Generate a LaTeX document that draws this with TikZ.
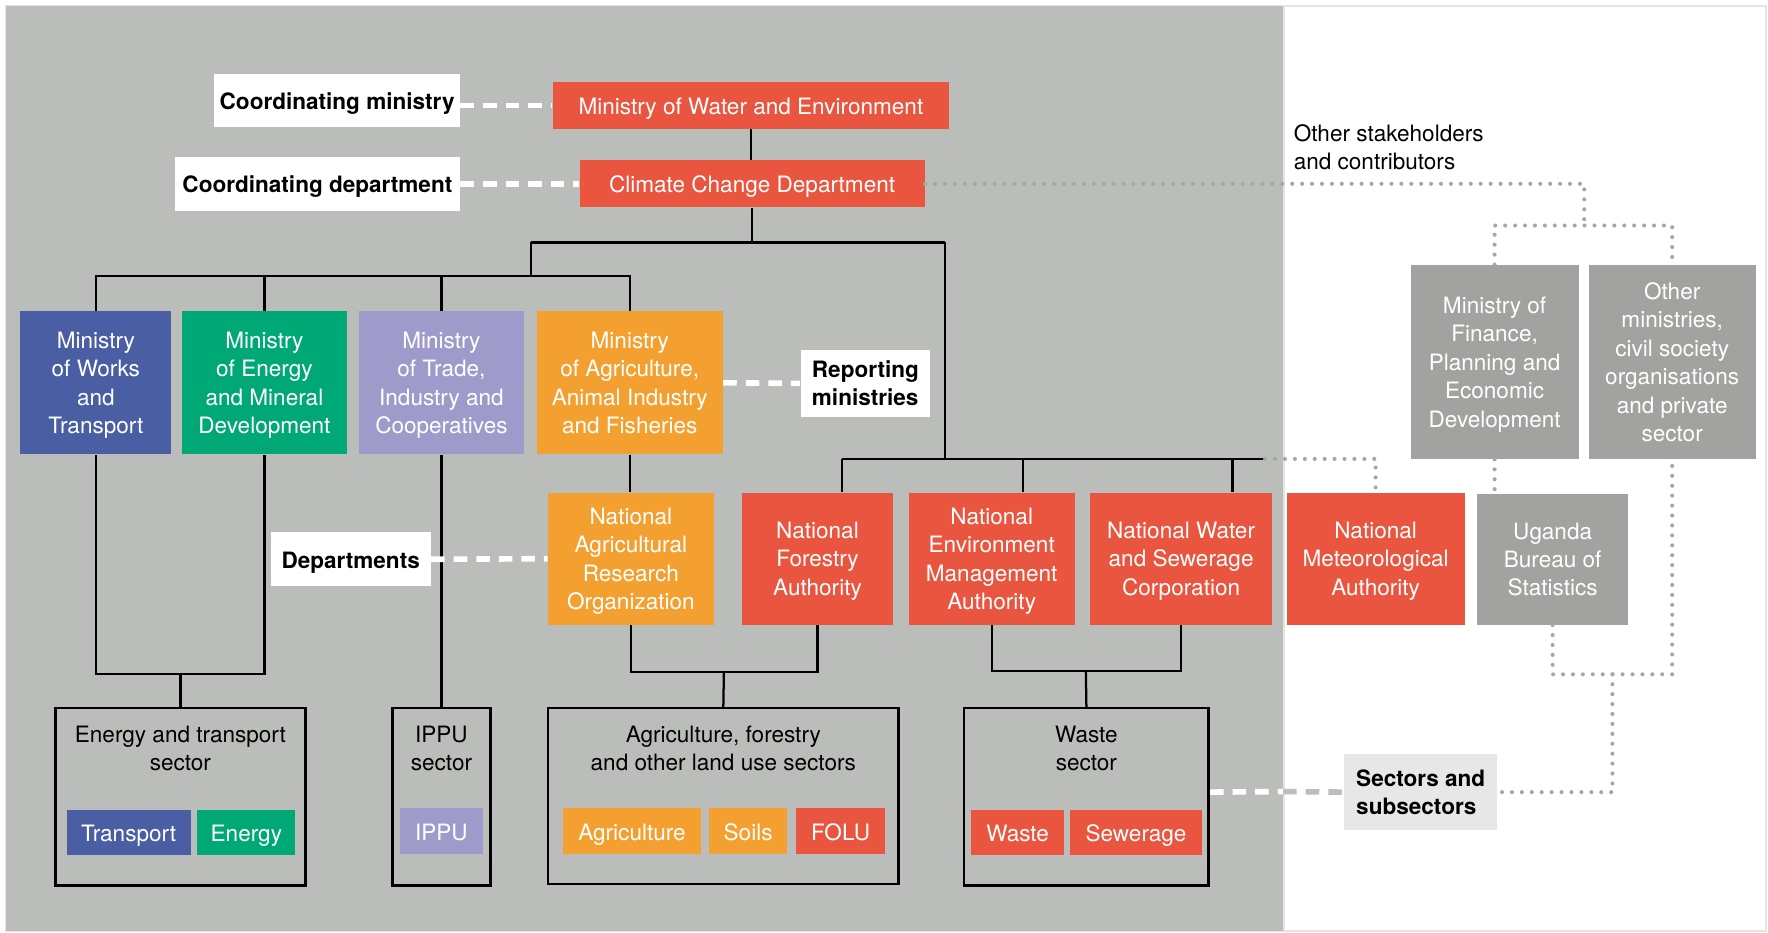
\documentclass[tikz,border=0pt]{standalone}
\usepackage{fontspec}
\setmainfont{TeX Gyre Heros}
\definecolor{panel}{HTML}{BBBDBA}
\definecolor{framegray}{HTML}{E4E4E4}
\definecolor{orgred}{HTML}{E9553F}
\definecolor{orgorange}{HTML}{F4A030}
\definecolor{orgblue}{HTML}{4A5EA3}
\definecolor{orggreen}{HTML}{00A876}
\definecolor{orglav}{HTML}{9E9BCB}
\definecolor{orggray}{HTML}{A2A3A0}
\definecolor{dotgray}{HTML}{A6A6A6}
\definecolor{dashgray}{HTML}{BDBDBD}
\definecolor{labelgray}{HTML}{E6E7E6}
\begin{document}
\begin{tikzpicture}[x=0.5pt,y=-0.5pt,
  base/.style={rectangle, inner sep=0pt, align=center, text depth=0pt,
    font=\fontsize{10}{12.6}\selectfont,
    execute at begin node={\rule{0pt}{8pt}}},
  sz/.style 2 args={minimum width=#1*0.5pt, minimum height=#2*0.5pt},
  org/.style={base, text=white, fill=#1},
  lbl/.style={base, fill=#1, text=black,
    font=\fontsize{10}{12.6}\selectfont\bfseries},
  lbl/.default=white,
  sector/.style={rectangle, draw=black, line width=1.2pt, inner sep=0pt},
  title/.style={base, text=black},
  link/.style={draw=black, line width=1pt},
  hint/.style={draw=#1, line width=2.5pt, dash pattern=on 6pt off 4pt},
  hint/.default=white,
  dots/.style={draw=dotgray, line width=1.8pt, line cap=round,
    dash pattern=on 0pt off 4.4pt}]

% canvas and shaded government panel
\useasboundingbox (0,0) rectangle (1568,827);
\fill[white] (0,0) rectangle (1568,827);
\draw[framegray, line width=0.8pt] (5,5) rectangle (1566,826);
\fill[panel] (5,5) rectangle (1138,826);
\draw[framegray, line width=0.8pt] (1138.5,5) -- (1138.5,826);

% coordinating level
\node[org=orgred, sz={352}{41}] (mwe) at (666,93.5) {Ministry of Water and Environment};
\node[org=orgred, sz={306}{42}] (ccd) at (667,163) {Climate Change Department};
\node[lbl, sz={218}{47}] (coordmin) at (299,89.5) {Coordinating ministry};
\node[lbl, sz={253}{48}] (coorddep) at (281.5,163) {Coordinating department};

% reporting ministries
\node[org=orgblue, sz={134}{127}] (mow) at (85,339.5) {Ministry\\of Works\\and\\Transport};
\node[org=orggreen, sz={147}{127}] (mem) at (234.5,339.5) {Ministry\\of Energy\\and Mineral\\Development};
\node[org=orglav, sz={147}{127}] (mtic) at (391.5,339.5) {Ministry\\of Trade,\\Industry and\\Cooperatives};
\node[org=orgorange, sz={165}{127}] (maaif) at (558.5,339.5) {Ministry\\of Agriculture,\\Animal Industry\\and Fisheries};
\node[lbl, sz={115}{60}, align=left] (repmin) at (767.5,340) {Reporting\\ministries};

% departments and agencies
\node[org=orgorange, sz={147}{117}] (naro) at (559.5,495.5) {National\\Agricultural\\Research\\Organization};
\node[org=orgred, sz={134}{117}] (nfa) at (725,495.5) {National\\Forestry\\Authority};
\node[org=orgred, sz={147}{117}] (nema) at (879.5,495.5) {National\\Environment\\Management\\Authority};
\node[org=orgred, sz={161}{117}] (nwsc) at (1047.5,495.5) {National Water\\and Sewerage\\Corporation};
\node[org=orgred, sz={158}{117}] (nma) at (1220,495.5) {National\\Meteorological\\Authority};
\node[lbl, sz={142}{48}] (depts) at (311,496) {Departments};

% other stakeholders
\node[base, anchor=north west, align=left, text=black] (others) at (1147,110) {Other stakeholders\\and contributors};
\node[org=orggray, sz={149}{172}] (mofped) at (1325.5,321) {Ministry of\\Finance,\\Planning and\\Economic\\Development};
\node[org=orggray, sz={148}{172}] (othmin) at (1483,321) {Other\\ministries,\\civil society\\organisations\\and private\\sector};
\node[org=orggray, sz={134}{116}] (ubos) at (1377,496) {Uganda\\Bureau of\\Statistics};
\node[lbl=labelgray, sz={136}{67}, align=left] (secsub) at (1260,702.5) {Sectors and\\subsectors};

% sectors
\node[sector, sz={222}{157}] (etsec) at (160,706.5) {};
\node[sector, sz={87}{157}] (ippusec) at (391.5,706.5) {};
\node[sector, sz={311}{156}] (afolusec) at (641.5,706) {};
\node[sector, sz={217}{157}] (wastesec) at (963.5,706.5) {};
\node[title] (ettitle) at (160,663.5) {Energy and transport\\sector};
\node[title] (ipputitle) at (391.5,663.5) {IPPU\\sector};
\node[title] (afolutitle) at (641.5,663.5) {Agriculture, forestry\\and other land use sectors};
\node[title] (wastetitle) at (963.5,663.5) {Waste\\sector};

% subsectors
\node[org=orgblue, sz={110}{40}] (transport) at (114,738) {Transport};
\node[org=orggreen, sz={87}{40}] (energy) at (218.5,738) {Energy};
\node[org=orglav, sz={73}{40}] (ippu) at (391.5,737) {IPPU};
\node[org=orgorange, sz={123}{40}] (agri) at (560.5,737) {Agriculture};
\node[org=orgorange, sz={69}{40}] (soils) at (663.5,737) {Soils};
\node[org=orgred, sz={79}{40}] (folu) at (745.5,737) {FOLU};
\node[org=orgred, sz={83}{40}] (waste) at (902.5,738) {Waste};
\node[org=orgred, sz={117}{40}] (sewer) at (1007.5,738) {Sewerage};

% junction points of the reporting tree
\coordinate (j1) at (667,215);
\coordinate (jl) at (471,215);
\coordinate (jr) at (838,215);
\coordinate (j2) at (471,245);
\coordinate (jm) at (838,407);
\coordinate (h1) at (747,407);
\coordinate (h2) at (907,407);
\coordinate (h3) at (1093,407);
\coordinate (h4) at (1122,407);
\coordinate (eb) at (160,598);
\coordinate (ab) at (642,596);
\coordinate (wb) at (963,595);

% reporting lines
\draw[link] (mwe.south) -- (mwe.south |- ccd.north);
\draw[link] (ccd.south) -- (j1);
\draw[link] (jl) -- (jr);
\draw[link] (jl) -- (j2);
\draw[link] (mow.north) |- (j2) -| (maaif.north);
\draw[link] (mem.north) -- (mem.north |- j2);
\draw[link] (mtic.north) -- (mtic.north |- j2);
\draw[link] (maaif.south) -- (maaif.south |- naro.north);
\draw[link] (jr) -- (jm);
\draw[link] (h1) -- (h4);
\draw[link] (h1) -- (h1 |- nfa.north);
\draw[link] (h2) -- (h2 |- nema.north);
\draw[link] (h3) -- (h3 |- nwsc.north);
\draw[link] (mow.south) |- (eb) -| (mem.south);
\draw[link] (eb) -- (etsec.north);
\draw[link] (mtic.south) -- (ippusec.north);
\draw[link] (naro.south) |- (ab) -| (nfa.south);
\draw[link] (ab) -- (afolusec.north);
\draw[link] (nema.south) |- (wb) -| (nwsc.south);
\draw[link] (wb) -- (wastesec.north);

% level labels
\draw[hint] (mwe.west -| coordmin.east) -- (mwe.west);
\draw[hint] (coorddep.east) -- (ccd.west);
\draw[hint] (maaif.east) -- (repmin.west);
\draw[hint] (depts.east) -- (naro.west);
\coordinate (edge) at (1138,702);
\draw[hint] (secsub.west -| wastesec.east) -- (edge);
\draw[hint=dashgray] (edge) -- (secsub.west);

% stakeholder links
\coordinate (d2) at (1405,200);
\coordinate (d3) at (1430,598);
\draw[dots] (ccd.east) -| (d2);
\draw[dots] (mofped.north) |- (d2) -| (othmin.north);
\draw[dots] (h4) -| (nma.north);
\draw[dots] (mofped.south) -- (mofped.south |- ubos.north);
\draw[dots] (ubos.south) |- (d3) -| (othmin.south);
\draw[dots] (d3) |- (secsub.east);
\end{tikzpicture}
\end{document}
